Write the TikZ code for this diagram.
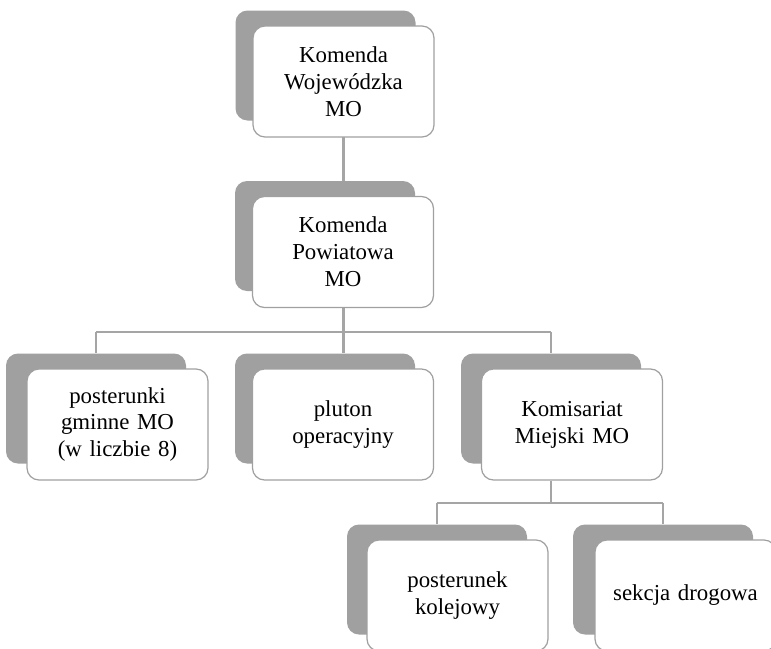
\documentclass[tikz,border=0pt]{standalone}
\usepackage{fontspec}
\setmainfont{Liberation Serif}
\usepackage{tikz}
\definecolor{cien}{HTML}{A0A0A0}
\definecolor{linia}{HTML}{A5A5A5}
\tikzset{
  tyl/.style={fill=cien,rounded corners=12*0.02cm,minimum width=180*0.02cm,minimum height=110*0.02cm,inner sep=0pt},
  pole/.style={draw=cien,line width=0.7pt,fill=white,rounded corners=12*0.02cm,minimum width=181*0.02cm,minimum height=111*0.02cm,inner sep=2pt,align=center,text width=170*0.02cm,font=\fontsize{13}{15.3}\selectfont},
  lacz/.style={draw=linia,line width=1.2pt}
}
\begin{document}
\begin{tikzpicture}[x=0.02cm,y=-0.02cm]
						\clip (0,0) rectangle (771,649);
						\fill[white] (0,0) rectangle (771,649);
						% cienie
						\node[tyl] (kw-b) at (325.5,65.5) {};
						\node[tyl] (kp-b) at (325,236) {};
						\node[tyl] (pg-b) at (96,408.5) {};
						\node[tyl] (po-b) at (325,408.5) {};
						\node[tyl] (km-b) at (551,408.5) {};
						\node[tyl] (pk-b) at (437,579.5) {};
						\node[tyl] (sd-b) at (663,579.5) {};
						% polaczenia
						\draw[lacz] (343.5,137)--(kp-b.north -| 343.5,0);
						\coordinate (s1) at (343.5,332);
						\draw[lacz] (343.5,307)--(s1);
						\draw[lacz] (pg-b.north |- s1)--(km-b.north |- s1);
						\draw[lacz] (pg-b.north |- s1)--(pg-b.north);
						\draw[lacz] (s1)--(po-b.north -| s1);
						\draw[lacz] (km-b.north |- s1)--(km-b.north);
						\coordinate (s2) at (551,503);
						\draw[lacz] (551,481)--(s2);
						\draw[lacz] (pk-b.north |- s2)--(sd-b.north |- s2);
						\draw[lacz] (pk-b.north |- s2)--(pk-b.north);
						\draw[lacz] (sd-b.north |- s2)--(sd-b.north);
						% pola
						\node[pole] (kw) at (343.5,81.5) {Komenda\\Wojewódzka\\MO};
						\node[pole] (kp) at (343,252) {Komenda\\Powiatowa\\MO};
						\node[pole] (pg) at (117.5,424.5) {posterunki\\gminne MO\\(w liczbie 8)};
						\node[pole] (po) at (343,424.5) {pluton\\operacyjny};
						\node[pole] (km) at (572,424.5) {Komisariat\\Miejski MO};
						\node[pole] (pk) at (457.5,595.5) {posterunek\\kolejowy};
						\node[pole] (sd) at (685.5,595.5) {sekcja drogowa};
					\end{tikzpicture}
\end{document}
